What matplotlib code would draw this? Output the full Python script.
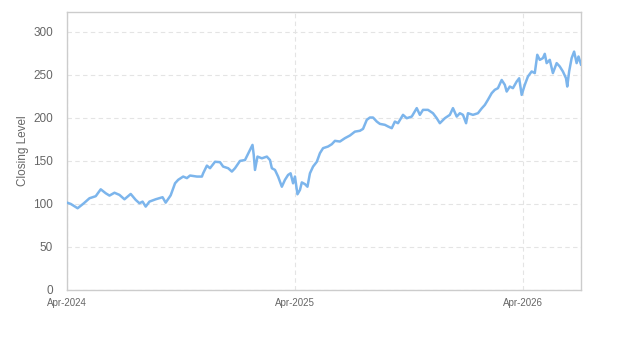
import matplotlib
matplotlib.use("Agg")
import matplotlib.pyplot as plt
import matplotlib.dates as mdates
import pandas as pd

start_date = "2024-04-01"
end_date = "2026-07-03"
day_offsets = [0, 6, 17, 27, 36, 46, 54, 62, 68, 76, 84, 92, 102, 110, 116, 121, 126, 132,
               142, 153, 158, 166, 173, 178, 186, 192, 197, 208, 216, 218, 224, 229, 237, 245,
               250, 258, 264, 269, 277, 285, 293, 297, 299, 301, 305, 312, 320, 325, 328, 333,
               338, 344, 349, 354, 358, 362, 365, 369, 373, 376, 381, 385, 389, 394, 400, 405,
               410, 418, 424, 429, 437, 445, 453, 461, 469, 474, 480, 485, 490, 496, 501, 509,
               514, 520, 525, 530, 538, 544, 552, 560, 565, 570, 578, 586, 592, 597, 605, 613,
               618, 624, 629, 634, 639, 642, 650, 658, 664, 669, 674, 680, 685, 690, 696, 701,
               704, 709, 714, 720, 724, 728, 733, 738, 744, 749, 753, 757, 762, 765, 768, 773,
               778, 784, 789, 794, 799, 801, 804, 808, 812, 816, 819, 823]
closing = [101.5, 100, 95, 100.8, 106.6, 109, 117, 112.4, 109.7, 113, 110.5, 105.4, 111.6, 104.7,
           100.8, 102.7, 96.9, 102.7, 105.4, 107.8, 101.5, 110, 124, 128, 131.8, 130, 133, 131.8,
           131.8, 135.6, 144.5, 141.5, 149, 148.5, 143.4, 141.5, 137.6, 141.5, 150, 151, 162.8,
           168.6, 157, 139.5, 155, 153, 155, 151, 141.5, 139.5, 131.8, 120, 128, 133.7, 135.6,
           124, 131.8, 111.2, 116.3, 125, 123, 120, 135.6, 143.4, 149, 159, 164.8, 166.7, 169.4,
           173.3, 172.5, 176.4, 179.5, 184, 185, 187.2, 197.7, 200.4, 200.4, 195.7, 193, 191.9,
           190, 188, 195.7, 193.8, 203.5, 199.6, 201.5, 211.3, 203.5, 209.3, 209.3, 205.4, 199.6,
           193.8, 199.6, 203.5, 211.3, 201.5, 205.4, 203.5, 193.8, 205.4, 203.5, 205.4, 211, 215,
           221, 228.7, 232.6, 234.5, 244, 238.4, 230.6, 236.4, 234.5, 242.2, 246, 226.7, 238.4,
           248, 253.9, 252, 273.3, 267.4, 269.4, 274.4, 263.6, 267.4, 252, 263.6, 259.7, 253.9,
           246, 236.4, 253.9, 269.4, 277, 263.6, 271.3, 262]
x_ticks = ["2024-04-01", "2025-04-01", "2026-04-01"]
y_ticks = [0, 50, 100, 150, 200, 250, 300]

plt.rcParams['font.family'] = ['Liberation Sans', 'DejaVu Sans']

dates = pd.Timestamp(start_date) + pd.to_timedelta(day_offsets, unit="D")

fig = plt.figure(figsize=(6.23, 3.5), dpi=100)
ax = fig.add_axes([67/623, 1-290/350, (581-67)/623, (290-12)/350])

ax.plot(dates, closing, color="#7cb5ec", linewidth=1.8, solid_joinstyle="round", zorder=3)

ax.set_xlim(pd.Timestamp(start_date), pd.Timestamp(end_date))
ax.set_ylim(0, 323)
ax.set_yticks(y_ticks)
ax.set_xticks([pd.Timestamp(t) for t in x_ticks])
ax.xaxis.set_major_formatter(mdates.DateFormatter("%b-%Y"))

ax.grid(True, color="#e4e4e4", linestyle=(0, (4, 3)), linewidth=0.8, zorder=0)
for s in ax.spines.values():
    s.set_color("#cccccc")
    s.set_linewidth(1)
ax.tick_params(axis="both", length=0, colors="#666666")
ax.tick_params(axis="y", labelsize=8.5, pad=10)
ax.tick_params(axis="x", labelsize=7, pad=6)
ax.set_ylabel("Closing Level", color="#666666", fontsize=8.5)
ax.yaxis.set_label_coords(-0.074, 0.5)

fig.savefig("out.png", dpi=100, facecolor="white")
